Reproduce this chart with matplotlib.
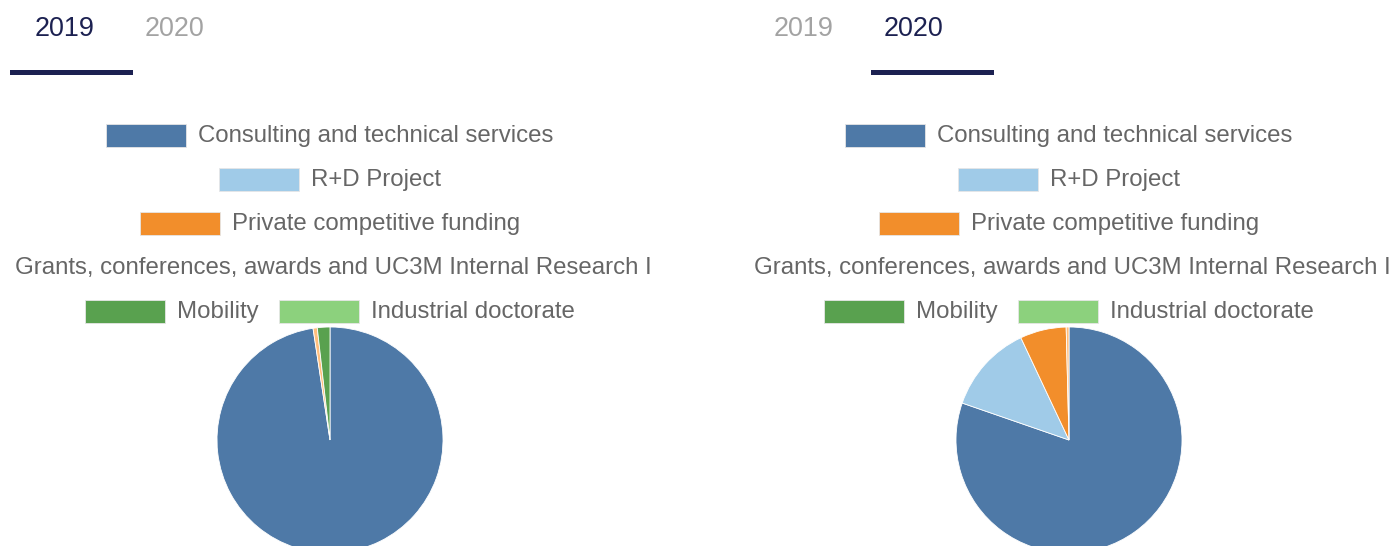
import matplotlib
matplotlib.use("Agg")
import matplotlib.pyplot as plt
from matplotlib.patches import Rectangle

plt.rcParams['font.family'] = ['Liberation Sans', 'DejaVu Sans']

# ---------------- data ----------------
years = ["2019", "2020"]
categories = [
    "Consulting and technical services",
    "R+D Project",
    "Private competitive funding",
    "Grants, conferences, awards and UC3M Internal Research I",
    "Mobility",
    "Industrial doctorate",
]
values_2019 = [97.6, 0.0, 0.0, 0.6, 1.8, 0.0]
values_2020 = [80.3, 12.7, 6.6, 0.4, 0.0, 0.0]
values_by_year = [values_2019, values_2020]

# ---------------- style ----------------
colors = ["#4e79a7", "#a0cbe8", "#f28e2b", "#ffbe7d", "#59a14f", "#8cd17d"]
legend_rows = [[0], [1], [2], [3], [4, 5]]
W, H = 1394, 546
DPI = 100
PX = 72.0 / DPI  # points per pixel

navy = "#1c2151"
grey_tab = "#a3a3a3"
legend_txt = "#666666"

fig = plt.figure(figsize=(W / DPI, H / DPI), dpi=DPI)
fig.patch.set_facecolor("white")
renderer = fig.canvas.get_renderer()

panel_offsets = [0, 739]
canvas_l, canvas_r = 8, 652
center_x = 330
row_y = [135.5, 179.5, 223.5, 267.5, 311.5]
box_w, box_h = 80, 23
gap = 12
item_gap = 20
legend_fs = 24 * PX
tab_fs = 27 * PX
tab_x = [35, 145]
tab_line = [(10, 133), (133, 256)]
pie_cy = 440
pie_r = 113

for p, (off, vals) in enumerate(zip(panel_offsets, values_by_year)):
    # panel axes in pixel coordinates
    ax = fig.add_axes([(off + canvas_l) / W, 0, (canvas_r - canvas_l) / W, 1])
    ax.set_xlim(off + canvas_l, off + canvas_r)
    ax.set_ylim(H, 0)
    ax.axis("off")

    # tabs
    for i, yr in enumerate(years):
        active = (i == p)
        ax.text(off + tab_x[i], 35.5, yr, fontsize=tab_fs,
                color=navy if active else grey_tab, va="baseline", ha="left",
                clip_on=True)
        if active:
            x0, x1 = tab_line[i]
            ax.add_patch(Rectangle((off - (p * 1) + x0, 70), x1 - x0, 5,
                                   facecolor=navy, edgecolor="none"))

    # legend rows
    for r, row in enumerate(legend_rows):
        widths = []
        for idx in row:
            t = ax.text(0, 0, categories[idx], fontsize=legend_fs)
            bb = t.get_window_extent(renderer=renderer)
            widths.append(bb.width)
            t.remove()
        total = sum(box_w + gap + w for w in widths) + item_gap * (len(row) - 1)
        if total > canvas_r - canvas_l:
            x = off + canvas_l + 7 - box_w - gap
        else:
            x = off + center_x - total / 2
        yc = row_y[r]
        for idx, w in zip(row, widths):
            ax.add_patch(Rectangle((x, yc - box_h / 2), box_w, box_h,
                                   facecolor=colors[idx], edgecolor="#e6e6e6",
                                   linewidth=0.6))
            ax.text(x + box_w + gap, yc + 6.5, categories[idx], fontsize=legend_fs,
                    color=legend_txt, va="baseline", ha="left", clip_on=True)
            x += box_w + gap + w + item_gap

    # pie
    cx = off + center_x
    pax = fig.add_axes([(cx - pie_r) / W, (H - pie_cy - pie_r) / H,
                        2 * pie_r / W, 2 * pie_r / H])
    nz = [(v, c) for v, c in zip(vals, colors) if v > 0]
    wedges, _ = pax.pie([v for v, _ in nz], colors=[c for _, c in nz],
                        startangle=90, counterclock=False, radius=1,
                        wedgeprops=dict(edgecolor="white", linewidth=0.6))
    for wdg in wedges:
        wdg.set_clip_on(False)
    pax.set_xlim(-1, 1)
    pax.set_ylim(-1, 1)
    pax.set_aspect("equal")
    pax.axis("off")

fig.savefig("out.png", dpi=DPI, facecolor="white")
